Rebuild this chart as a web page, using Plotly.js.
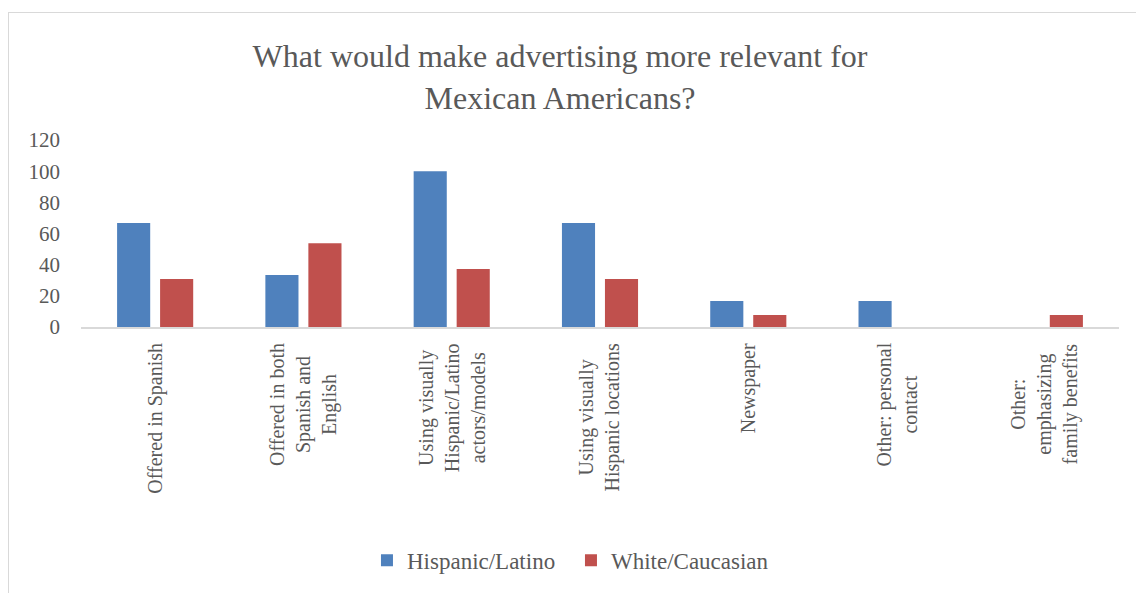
<!DOCTYPE html>
<html>
<head>
<meta charset="utf-8">
<script src="https://cdn.plot.ly/plotly-3.0.1.min.js"></script>
<style>
html,body{margin:0;padding:0;background:#fff;overflow:hidden;}
#wrap{position:relative;width:1136px;height:593px;}
#chart{position:absolute;left:0;top:0;width:1136px;height:593px;}
#frame{position:absolute;left:8px;top:12px;width:2000px;height:2000px;border-left:1px solid #d9d9d9;border-top:1px solid #d9d9d9;pointer-events:none;}
</style>
</head>
<body>
<div id="wrap">
<div id="chart"></div>
<div id="frame"></div>
</div>
<script>
var categories = [
  "Offered in Spanish",
  "Offered in both<br>Spanish and<br>English",
  "Using visually<br>Hispanic/Latino<br>actors/models",
  "Using visually<br>Hispanic locations",
  "Newspaper",
  "Other: personal<br>contact",
  "Other:<br>emphasizing<br>family benefits"
];
var hispanicLatino = [66.7, 33.3, 100, 66.7, 16.7, 16.7, 0];
var whiteCaucasian = [30.8, 53.8, 37.2, 30.8, 7.7, 0, 7.7];
var seriesNames = ["Hispanic/Latino", "White/Caucasian"];
var yTicks = [0, 20, 40, 60, 80, 100, 120];

var FONT = 'Liberation Serif, Times New Roman, serif';
var GREY = '#595959';

var traces = [
  {type:'bar', name:seriesNames[0], x:categories, y:hispanicLatino, marker:{color:'#4F81BD'}},
  {type:'bar', name:seriesNames[1], x:categories, y:whiteCaucasian, marker:{color:'#C0504D'}}
];

var annotations = categories.map(function(c){
  return {xref:'x', yref:'paper', x:c, y:-0.075, text:c, showarrow:false,
    textangle:-90, xanchor:'center', yanchor:'top', align:'center',
    font:{family:FONT, size:20, color:GREY}};
});

var layout = {
  width:1136, height:593,
  margin:{l:81, r:17, t:140, b:263},
  paper_bgcolor:'rgba(0,0,0,0)', plot_bgcolor:'rgba(0,0,0,0)',
  font:{family:FONT, color:GREY},
  title:{text:'What would make advertising more relevant for<br>Mexican Americans?',
    font:{family:FONT, size:32, color:GREY}, xref:'container', x:0.493, xanchor:'center',
    yref:'container', y:0.887, yanchor:'top'},
  barmode:'group', bargap:0.42, bargroupgap:0.23,
  xaxis:{type:'category', showticklabels:false, showline:true, linecolor:'#d9d9d9', linewidth:1.5,
    ticks:'', showgrid:false, zeroline:false, fixedrange:true},
  yaxis:{range:[0,120], tickvals:yTicks, ticktext:yTicks.map(String), showgrid:false, zeroline:false,
    showline:false, ticks:'', ticklabelstandoff:20,
    tickfont:{family:FONT, size:21, color:GREY}},
  showlegend:true,
  legend:{orientation:'h', x:0.2755, xanchor:'left', y:-1.247, yanchor:'middle',
    font:{family:FONT, size:23, color:GREY}, itemwidth:30, entrywidth:159, entrywidthmode:'pixels'},
  annotations:annotations
};

Plotly.newPlot('chart', traces, layout, {displayModeBar:false, staticPlot:true});
</script>
</body>
</html>
